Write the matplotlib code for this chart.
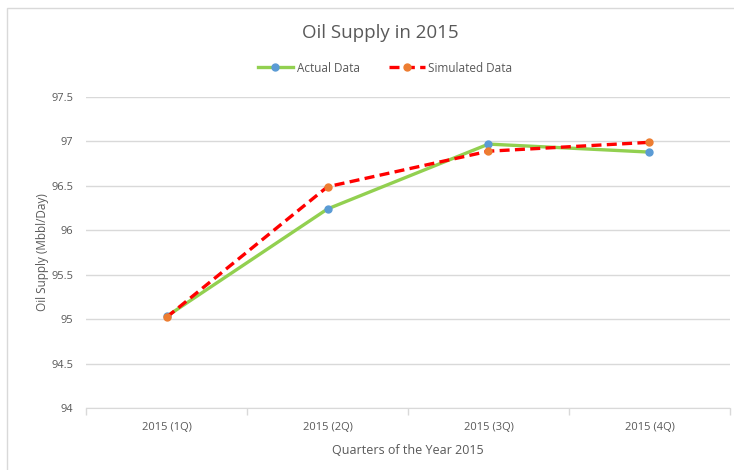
#!/usr/bin/env python3
import matplotlib
matplotlib.use('Agg')
import matplotlib.pyplot as plt
from matplotlib.patches import Rectangle

quarters = ['2015 (1Q)', '2015 (2Q)', '2015 (3Q)', '2015 (4Q)']
actual = [95.03, 96.24, 96.97, 96.88]
simulated = [95.02, 96.49, 96.89, 96.99]
yticks = [94, 94.5, 95, 95.5, 96, 96.5, 97, 97.5]
ytick_labels = ['94', '94.5', '95', '95.5', '96', '96.5', '97', '97.5']

plt.rcParams['font.family'] = ['Open Sans', 'DejaVu Sans']
txt = '#595959'
grid = '#d9d9d9'

fig = plt.figure(figsize=(7.34, 4.70), dpi=100)
W, H = 734, 470
ax = fig.add_axes([86 / W, 1 - 408 / H, (730 - 86) / W, (408 - 97) / H])

# chart border
fig.patches.append(Rectangle((7 / W, -0.1), 1.2, 1 - 8 / H + 0.1,
                             transform=fig.transFigure, fill=False,
                             edgecolor='#d9d9d9', linewidth=1))

x = list(range(len(quarters)))
ax.plot(x, actual, color='#92D050', linewidth=2.4, marker='o', markersize=5,
        markerfacecolor='#5B9BD5', markeredgecolor='#5B9BD5', label='Actual Data',
        zorder=3)
ax.plot(x, simulated, color='#FF0000', linewidth=2.4, linestyle=(0, (3, 1.6)),
        marker='o', markersize=5, markerfacecolor='#ED7D31',
        markeredgecolor='#ED7D31', label='Simulated Data', zorder=4)

ax.set_xlim(-0.5, len(quarters) - 0.5)
ax.set_ylim(94, 97.5)
ax.set_yticks(yticks)
ax.set_yticklabels(ytick_labels)
ax.set_xticks(x)
ax.set_xticklabels(quarters)
ax.set_xticks([i - 0.5 for i in range(len(quarters) + 1)], minor=True)
ax.tick_params(axis='x', which='major', length=0, pad=10, labelsize=8, colors=txt)
ax.tick_params(axis='x', which='minor', length=5, color=grid, width=1)
ax.tick_params(axis='y', length=0, pad=9, labelsize=8, colors=txt)

ax.grid(axis='y', color=grid, linewidth=1)
ax.set_axisbelow(True)
for s in ['top', 'right', 'left']:
    ax.spines[s].set_visible(False)
ax.spines['bottom'].set_color(grid)

ax.set_xlabel('Quarters of the Year 2015', fontsize=9, color=txt, labelpad=8)
ax.set_ylabel('Oil Supply (Mbbl/Day)', fontsize=8.5, color=txt, labelpad=2)
fig.text(380 / W, 1 - 33 / H, 'Oil Supply in 2015', ha='center', va='center',
         fontsize=13.5, color=txt)

ax.legend(loc='center', bbox_to_anchor=(385 / W, 1 - 68 / H),
          bbox_transform=fig.transFigure, ncol=2, frameon=False, fontsize=8.5,
          labelcolor=txt, handlelength=3, columnspacing=2.5, handletextpad=0.3)

fig.savefig('out.png', dpi=100)
